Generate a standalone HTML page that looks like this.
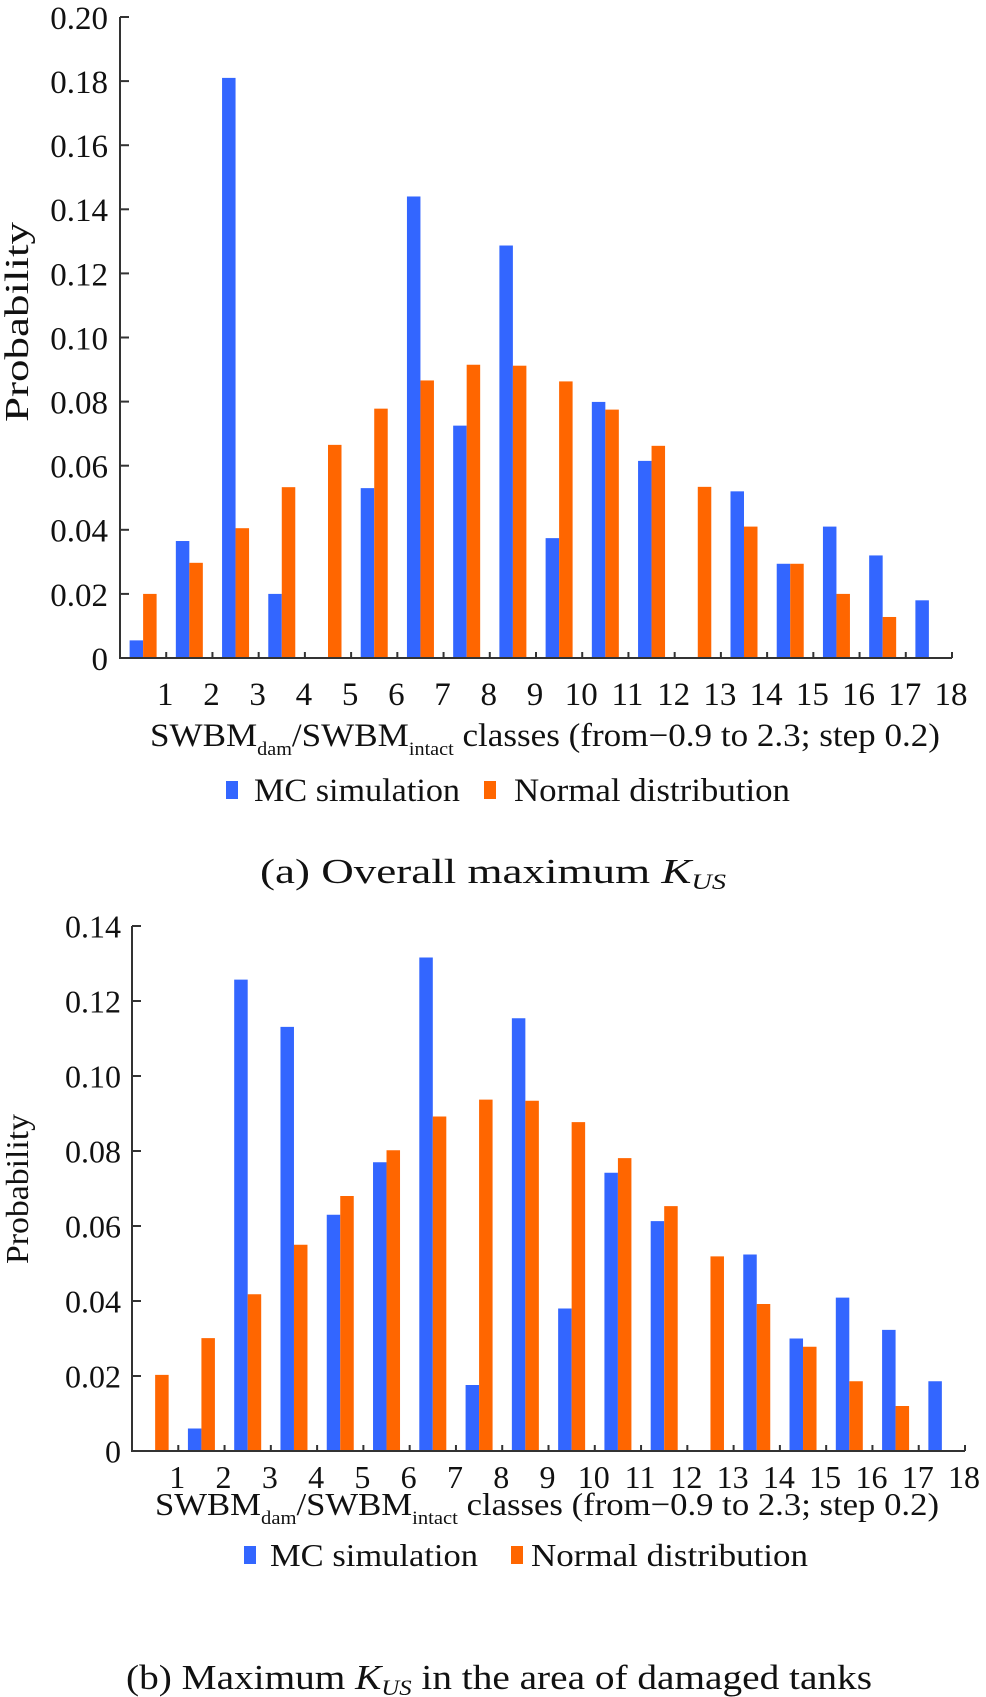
<!DOCTYPE html>
<html><head><meta charset="utf-8"><style>
html,body{margin:0;padding:0;background:#fff;}
svg{display:block;font-family:"Liberation Serif",serif;}
</style></head><body>
<svg id="fig" width="986" height="1697" viewBox="0 0 986 1697" xmlns="http://www.w3.org/2000/svg"></svg>
<script>
const categories = ["1","2","3","4","5","6","7","8","9","10","11","12","13","14","15","16","17","18"];
const mcA = [0.0055,0.0365,0.181,0.020,0,0.053,0.144,0.0725,0.1287,0.0374,0.0799,0.0615,0,0.052,0.0294,0.041,0.032,0.018];
const normA = [0.020,0.0297,0.0405,0.0533,0.0665,0.0778,0.0866,0.0915,0.0912,0.0863,0.0775,0.0662,0.0534,0.041,0.0294,0.020,0.0128,0];
const ticksA = [0,0.02,0.04,0.06,0.08,0.10,0.12,0.14,0.16,0.18,0.20];
const tickLabelsA = ["0","0.02","0.04","0.06","0.08","0.10","0.12","0.14","0.16","0.18","0.20"];
const mcB = [0,0.006,0.1257,0.1131,0.063,0.077,0.1316,0.0176,0.1154,0.038,0.0742,0.0613,0,0.0524,0.030,0.0409,0.0323,0.0186];
const normB = [0.0203,0.0301,0.0418,0.055,0.068,0.0802,0.0892,0.0937,0.0934,0.0877,0.0781,0.0653,0.0519,0.0392,0.0278,0.0186,0.012,0];
const ticksB = [0,0.02,0.04,0.06,0.08,0.10,0.12,0.14];
const tickLabelsB = ["0","0.02","0.04","0.06","0.08","0.10","0.12","0.14"];

const NS="http://www.w3.org/2000/svg";
const svg=document.getElementById('fig');
function mk(tag,attrs,parent,txt){const e=document.createElementNS(NS,tag);for(const k in attrs)e.setAttribute(k,attrs[k]);if(txt!==undefined)e.textContent=txt;(parent||svg).appendChild(e);return e;}

function chart(cfg){
  const g=mk('g',{});
  
  
  const n=categories.length;
  const step=(cfg.x1-cfg.x0)/n;
  const ys=v=>cfg.y0-(v/cfg.vmax)*(cfg.y0-cfg.yTop);
  const xs=i=>cfg.x0+step*i;
  const bw=13.5;
  for(let i=0;i<n;i++){
    const c=xs(i)+step/2;
    if(cfg.mc[i]>0){
      const r=mk('rect',{x:c-bw,y:ys(cfg.mc[i]),width:bw,height:cfg.y0-ys(cfg.mc[i]),fill:'#3366ff'},g);
      
      
    }
    if(cfg.norm[i]>0){
      const r=mk('rect',{x:c,y:ys(cfg.norm[i]),width:bw,height:cfg.y0-ys(cfg.norm[i]),fill:'#ff6600'},g);
      
      
    }
  }
  const ya=mk('line',{x1:cfg.x0,y1:cfg.yTop,x2:cfg.x0,y2:cfg.y0+1,stroke:'#333','stroke-width':2},g);
  
  
  const xa=mk('line',{x1:cfg.x0-1,y1:cfg.y0,x2:cfg.x1,y2:cfg.y0,stroke:'#333','stroke-width':2},g);
  
  
  cfg.ticks.forEach((t,k)=>{
    mk('line',{x1:cfg.x0,y1:ys(t),x2:cfg.x0+9,y2:ys(t),stroke:'#333','stroke-width':2},g);
    const tl=mk('text',{x:cfg.ylx,y:ys(t)+cfg.fs*0.36,'font-size':cfg.fs,'text-anchor':'end',fill:'#111'},g,cfg.tickLabels[k]);
    
    
  });
  for(let i=1;i<=n;i++){
    mk('line',{x1:xs(i),y1:cfg.y0,x2:xs(i),y2:cfg.y0-6,stroke:'#333','stroke-width':2},g);
    const tl=mk('text',{x:xs(i)-1,y:cfg.xly,'font-size':cfg.fs,'text-anchor':'middle',fill:'#111'},g,categories[i-1]);
    
    
  }
  const yt=mk('text',{x:-cfg.ytl/2,y:0,'font-size':cfg.ytf,fill:'#111',textLength:cfg.ytl,lengthAdjust:'spacingAndGlyphs',transform:`translate(${cfg.ytx},${cfg.yty}) rotate(-90)`},g,'Probability');
  
  
  const xt=mk('text',{x:cfg.xtx0,y:cfg.xty,'font-size':cfg.fs,fill:'#111',textLength:cfg.xtx1-cfg.xtx0,lengthAdjust:'spacingAndGlyphs'},g);
  
  
  xt.innerHTML='SWBM<tspan font-size="19" dy="9">dam</tspan><tspan dy="-9">/SWBM</tspan><tspan font-size="19" dy="9">intact</tspan><tspan dy="-9"> classes (from−0.9 to 2.3; step 0.2)</tspan>';
  const lg=mk('g',{},g);
  
  
  const l1=mk('g',{},lg);
  
  
  mk('rect',{x:cfg.lg[0],y:cfg.lgy-9,width:12,height:18,fill:'#3366ff'},l1);
  mk('text',{x:cfg.lg[1],y:cfg.lgy+11,'font-size':cfg.fs,fill:'#111',textLength:cfg.lg[2]-cfg.lg[1],lengthAdjust:'spacingAndGlyphs'},l1,'MC simulation');
  const l2=mk('g',{},lg);
  
  
  mk('rect',{x:cfg.lg[3],y:cfg.lgy-9,width:12,height:18,fill:'#ff6600'},l2);
  mk('text',{x:cfg.lg[4],y:cfg.lgy+11,'font-size':cfg.fs,fill:'#111',textLength:cfg.lg[5]-cfg.lg[4],lengthAdjust:'spacingAndGlyphs'},l2,'Normal distribution');
}

chart({name:'chart-a',x0:120,x1:952,y0:658,yTop:17,vmax:0.20,mc:mcA,norm:normA,ticks:ticksA,tickLabels:tickLabelsA,fs:33,
  ylx:108,xly:705,ytx:28,yty:322,ytf:34,ytl:200,xtx0:150,xtx1:940,xty:746,lgy:790,lg:[226,254,460,484,514,790]});
chart({name:'chart-b',x0:132,x1:965,y0:1451,yTop:926,vmax:0.14,mc:mcB,norm:normB,ticks:ticksB,tickLabels:tickLabelsB,fs:32,
  ylx:121,xly:1488,ytx:28,yty:1189,ytf:32,ytl:150,xtx0:155,xtx1:939,xty:1515,lgy:1555,lg:[244,270,478,511,531,808]});

const ca=mk('text',{x:260,y:883,'font-size':35,fill:'#111',textLength:466,lengthAdjust:'spacingAndGlyphs'});


ca.innerHTML='(a)  Overall maximum <tspan font-style="italic">K</tspan><tspan font-style="italic" font-size="22" dy="6">US</tspan>';
const cb=mk('text',{x:126,y:1689,'font-size':35,fill:'#111',textLength:746,lengthAdjust:'spacingAndGlyphs'});


cb.innerHTML='(b) Maximum <tspan font-style="italic">K</tspan><tspan font-style="italic" font-size="22" dy="6">US</tspan><tspan dy="-6"> in the area of damaged tanks</tspan>';
</script>
</body></html>
